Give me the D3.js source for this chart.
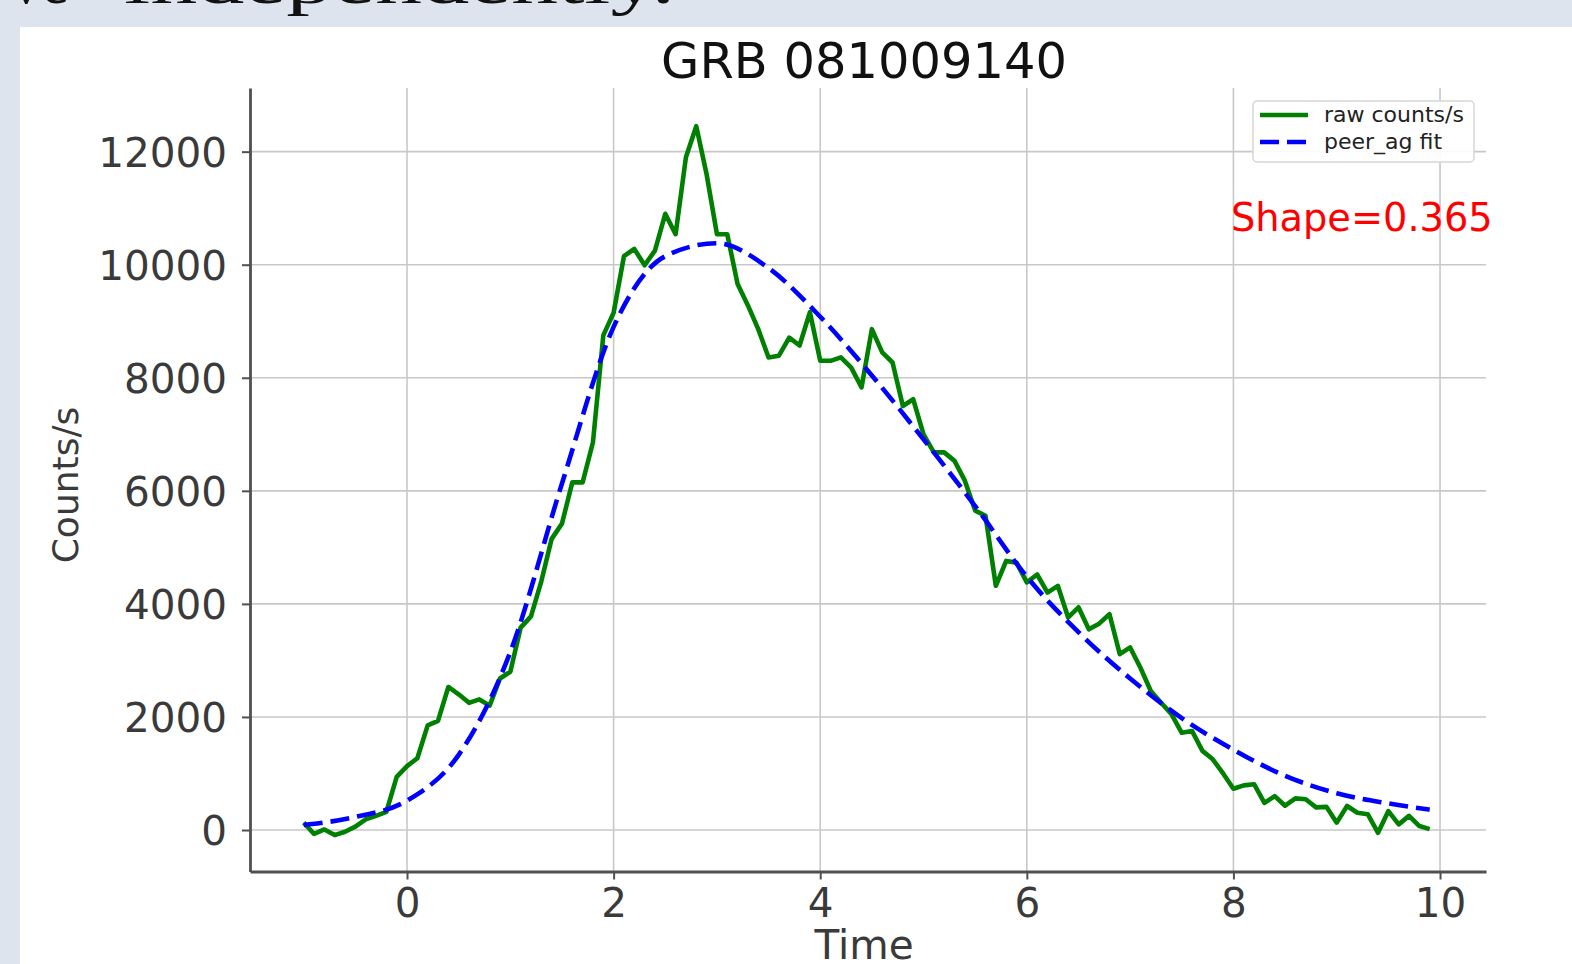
<!DOCTYPE html>
<html>
<head>
<meta charset="utf-8">
<script src="https://cdn.jsdelivr.net/npm/d3@7"></script>
<style>
  html, body { margin: 0; padding: 0; background: #dde4ee; overflow: hidden; }
  svg { display: block; }
</style>
</head>
<body>
<svg id="chart" width="1572" height="964"></svg>
<script>
// Light curve samples (time, counts/s)
const times = [
  -1.0, -0.9, -0.8, -0.7, -0.6, -0.5, -0.4, -0.3, -0.2, -0.1,
  0.0, 0.1, 0.2, 0.3, 0.4, 0.5, 0.6, 0.7, 0.8, 0.9,
  1.0, 1.1, 1.2, 1.3, 1.4, 1.5, 1.6, 1.7, 1.8, 1.9,
  2.0, 2.1, 2.2, 2.3, 2.4, 2.5, 2.6, 2.7, 2.8, 2.9,
  3.0, 3.1, 3.2, 3.3, 3.4, 3.5, 3.6, 3.7, 3.8, 3.9,
  4.0, 4.1, 4.2, 4.3, 4.4, 4.5, 4.6, 4.7, 4.8, 4.9,
  5.0, 5.1, 5.2, 5.3, 5.4, 5.5, 5.6, 5.7, 5.8, 5.9,
  6.0, 6.1, 6.2, 6.3, 6.4, 6.5, 6.6, 6.7, 6.8, 6.9,
  7.0, 7.1, 7.2, 7.3, 7.4, 7.5, 7.6, 7.7, 7.8, 7.9,
  8.0, 8.1, 8.2, 8.3, 8.4, 8.5, 8.6, 8.7, 8.8, 8.9,
  9.0, 9.1, 9.2, 9.3, 9.4, 9.5, 9.6, 9.7, 9.8, 9.9
];
const rawCounts = [
  130, -70, 10, -90, -30, 60, 190, 250, 320, 940,
  1130, 1270, 1850, 1930, 2530, 2400, 2250, 2310, 2200, 2680,
  2800, 3580, 3780, 4400, 5150, 5420, 6150, 6150, 6860, 8750,
  9150, 10150, 10280, 9990, 10250, 10900, 10540, 11900, 12450, 11600,
  10540, 10540, 9660, 9280, 8860, 8360, 8390, 8710, 8570, 9160,
  8300, 8300, 8360, 8180, 7830, 8860, 8450, 8270, 7500, 7620,
  7000, 6680, 6680, 6530, 6180, 5650, 5560, 4320, 4760, 4730,
  4380, 4520, 4200, 4320, 3760, 3940, 3550, 3650, 3820, 3110,
  3230, 2870, 2460, 2250, 2050, 1720, 1750, 1400, 1250, 1000,
  730, 790, 810, 480, 600, 430, 560, 545, 400, 410,
  130, 425, 305, 280, -50, 335, 100, 250, 70, 15
];

// peer_ag fit
const fitTimes = [-1.0, -0.5, 0.0, 0.5, 1.0, 1.5, 2.0, 2.5, 3.0, 3.5, 4.0, 4.5,
  5.0, 5.5, 6.0, 6.5, 7.0, 7.5, 8.0, 8.5, 9.0, 9.5, 9.9];
const fitCounts = [90, 230, 520, 1330, 3150, 6130, 8900, 10150, 10380, 9940, 9080, 8040,
  6910, 5730, 4480, 3500, 2680, 1980, 1420, 960, 650, 470, 360];

const xTicks = [0, 2, 4, 6, 8, 10];
const yTicks = [0, 2000, 4000, 6000, 8000, 10000, 12000];
const legendLabels = ['raw counts/s', 'peer_ag fit'];
const titleText = 'GRB 081009140';
const shapeText = 'Shape=0.365';

const svg = d3.select('#chart');
const font = "'DejaVu Sans', sans-serif";

// slide text peeking in at the top (mostly cut off)
svg.append('text')
  .attr('x', 69).attr('y', 3)
  .attr('text-anchor', 'end')
  .style('font-family', "'Liberation Serif', serif")
  .style('font-size', '62px')
  .attr('fill', '#111')
  .text('ve');
svg.append('text')
  .attr('x', 124).attr('y', 3)
  .attr('textLength', 551)
  .attr('lengthAdjust', 'spacingAndGlyphs')
  .style('font-family', "'Liberation Serif', serif")
  .style('font-size', '62px')
  .attr('fill', '#111')
  .text('independently.');

// white picture panel
svg.append('rect')
  .attr('x', 20).attr('y', 27)
  .attr('width', 1552).attr('height', 937)
  .attr('fill', '#ffffff');

const x = d3.scaleLinear().domain([-1.52, 10.445]).range([250, 1486]);
const y = d3.scaleLinear().domain([-734, 13126]).range([871.5, 88]);

// grid
const grid = svg.append('g');
grid.selectAll('.vg').data(xTicks).enter().append('line')
  .attr('x1', d => x(d)).attr('x2', d => x(d))
  .attr('y1', y.range()[1]).attr('y2', y.range()[0])
  .attr('stroke', '#c8c8c8').attr('stroke-width', 1.6);
grid.selectAll('.hg').data(yTicks).enter().append('line')
  .attr('x1', x.range()[0]).attr('x2', x.range()[1])
  .attr('y1', d => y(d)).attr('y2', d => y(d))
  .attr('stroke', '#c8c8c8').attr('stroke-width', 1.6);

// axes
const xAxis = svg.append('g')
  .attr('transform', 'translate(0,871.5)')
  .call(d3.axisBottom(x).tickValues(xTicks).tickSize(8).tickSizeOuter(0));
xAxis.selectAll('text').attr('y', 45).attr('dy', null);

const yAxis = svg.append('g')
  .attr('transform', 'translate(250,0)')
  .call(d3.axisLeft(y).tickValues(yTicks).tickSize(8).tickSizeOuter(0).tickFormat(d3.format('d')));
yAxis.selectAll('text').attr('x', -23).attr('dy', '0.36em');

[xAxis, yAxis].forEach(a => {
  a.select('.domain').attr('stroke', '#505050').attr('stroke-width', 2.8);
  a.selectAll('.tick line').attr('stroke', '#505050').attr('stroke-width', 2);
  a.selectAll('text')
    .style('font-family', font)
    .style('font-size', '40.5px')
    .attr('fill', '#3a3a3a');
});

// lines
const rawData = times.map((t, i) => ({ t: t, v: rawCounts[i] }));
const fitData = fitTimes.map((t, i) => ({ t: t, v: fitCounts[i] }));

const rawLine = d3.line().x(d => x(d.t)).y(d => y(d.v));
const fitLine = d3.line().x(d => x(d.t)).y(d => y(d.v)).curve(d3.curveMonotoneX);

svg.append('path')
  .datum(rawData)
  .attr('d', rawLine)
  .attr('fill', 'none')
  .attr('stroke', '#008000')
  .attr('stroke-width', 4.6)
  .attr('stroke-linejoin', 'round');

svg.append('path')
  .datum(fitData)
  .attr('d', fitLine)
  .attr('fill', 'none')
  .attr('stroke', '#0000ff')
  .attr('stroke-width', 4.6)
  .attr('stroke-dasharray', '19,8');

// title and axis labels
svg.append('text')
  .attr('x', 864).attr('y', 78)
  .attr('text-anchor', 'middle')
  .style('font-family', font)
  .style('font-size', '49.5px')
  .attr('fill', '#111')
  .text(titleText);

svg.append('text')
  .attr('x', 864).attr('y', 959)
  .attr('text-anchor', 'middle')
  .style('font-family', font)
  .style('font-size', '40.5px')
  .attr('fill', '#3a3a3a')
  .text('Time');

svg.append('text')
  .attr('transform', 'translate(78,485) rotate(-90)')
  .attr('text-anchor', 'middle')
  .style('font-family', font)
  .style('font-size', '36px')
  .attr('fill', '#3a3a3a')
  .text('Counts/s');

// shape annotation
svg.append('text')
  .attr('x', 1231).attr('y', 231)
  .style('font-family', font)
  .style('font-size', '38.3px')
  .attr('fill', '#ff0000')
  .text(shapeText);

// legend
const legend = svg.append('g');
legend.append('rect')
  .attr('x', 1253).attr('y', 101)
  .attr('width', 221).attr('height', 61)
  .attr('rx', 4)
  .attr('fill', '#ffffff').attr('fill-opacity', 0.9)
  .attr('stroke', '#d6d6d6').attr('stroke-width', 1.5);

const legendStyles = [
  { color: '#008000', dash: null, y: 115 },
  { color: '#0000ff', dash: '19,8', y: 142 }
];
legendStyles.forEach((s, i) => {
  legend.append('line')
    .attr('x1', 1260).attr('x2', 1308)
    .attr('y1', s.y).attr('y2', s.y)
    .attr('stroke', s.color).attr('stroke-width', 4.6)
    .attr('stroke-dasharray', s.dash);
  legend.append('text')
    .attr('x', 1324).attr('y', s.y + 7)
    .style('font-family', font)
    .style('font-size', '22px')
    .attr('fill', '#222')
    .text(legendLabels[i]);
});
</script>
</body>
</html>
